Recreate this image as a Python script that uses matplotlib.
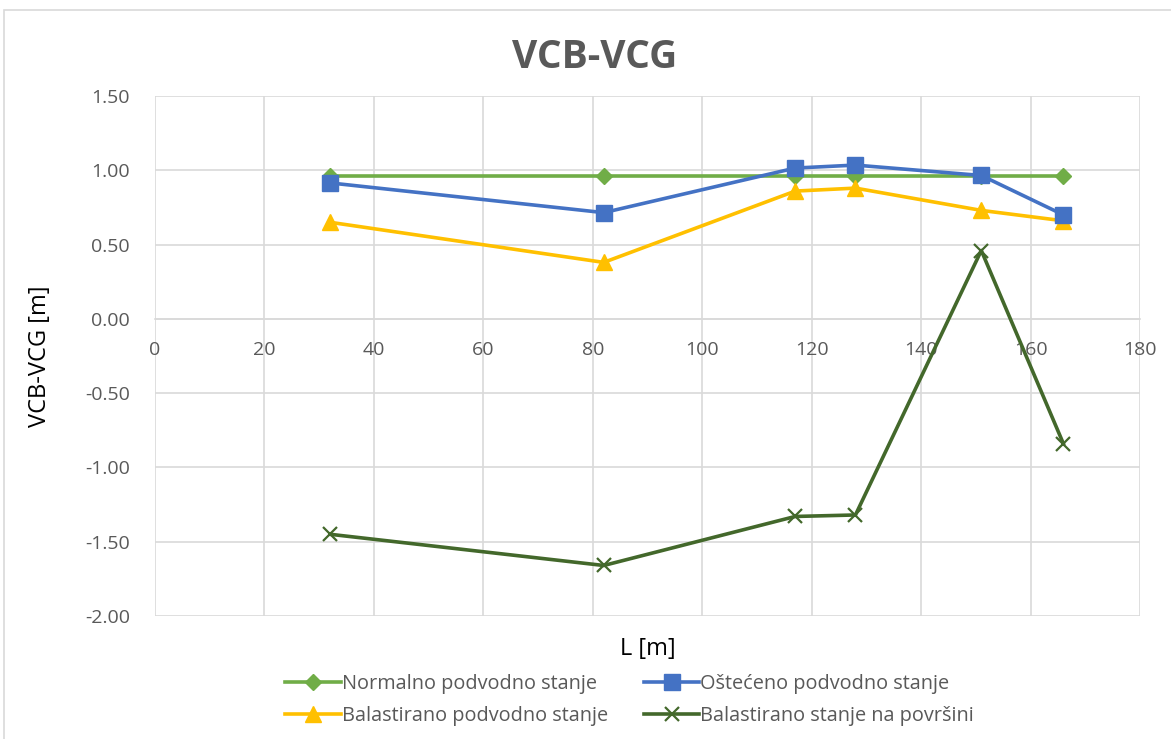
import matplotlib
matplotlib.use("Agg")
import matplotlib.pyplot as plt
from matplotlib.patches import Rectangle

L = [32, 82, 117, 128, 151, 166]
normalno = [0.96, 0.96, 0.96, 0.96, 0.96, 0.96]
osteceno = [0.915, 0.715, 1.015, 1.035, 0.965, 0.70]
balastirano = [0.65, 0.38, 0.86, 0.88, 0.73, 0.66]
povrsina = [-1.45, -1.66, -1.33, -1.32, 0.46, -0.84]

names = ["Normalno podvodno stanje", "Oštećeno podvodno stanje",
         "Balastirano podvodno stanje", "Balastirano stanje na površini"]
xticks = [0, 20, 40, 60, 80, 100, 120, 140, 160, 180]
yticks = [1.5, 1.0, 0.5, 0.0, -0.5, -1.0, -1.5, -2.0]

plt.rcParams['font.family'] = ['Open Sans', 'DejaVu Sans']

fig = plt.figure(figsize=(11.71, 7.39), dpi=100)
ax = fig.add_axes([155/1171, 1-616/739, (1140-155)/1171, (616-96)/739])

grid_c = '#d9d9d9'
txt_c = '#595959'

h1, = ax.plot(L, normalno, color='#70AD47', lw=2.6, marker='D', ms=8, label=names[0], zorder=3)
h2, = ax.plot(L, osteceno, color='#4472C4', lw=2.6, marker='s', ms=11, label=names[1], zorder=4)
h3, = ax.plot(L, balastirano, color='#FFC000', lw=2.6, marker='^', ms=11, label=names[2], zorder=3)
h4, = ax.plot(L, povrsina, color='#43682B', lw=2.6, marker='x', ms=10, mew=1.6, label=names[3], zorder=3)

ax.set_xlim(0, 180)
ax.set_ylim(-2.0, 1.5)
ax.set_xticks(xticks)
ax.set_yticks(yticks)
ax.set_yticklabels([f"{v:.2f}" for v in yticks])
ax.grid(True, color=grid_c, lw=1.2, zorder=0)
ax.set_axisbelow(True)
for s in ['top', 'right', 'left']:
    ax.spines[s].set_visible(False)
ax.spines['bottom'].set_position(('data', 0))
ax.spines['bottom'].set_color(grid_c)
ax.spines['bottom'].set_linewidth(1.2)
ax.tick_params(axis='both', length=0, colors=txt_c, labelsize=14)
ax.tick_params(axis='x', pad=16)
ax.tick_params(axis='y', pad=18)

fig.text(0.508, 1-58/739, "VCB-VCG", fontsize=28, fontweight='bold', color=txt_c,
         ha='center', va='center')
ax.set_xlabel("L [m]", fontsize=17, color='#000000')
ax.xaxis.set_label_coords(0.5, -0.04)
ax.set_ylabel("VCB-VCG [m]", fontsize=17, color='#000000')
ax.yaxis.set_label_coords(-0.105, 0.5)

leg = ax.legend([h1, h3, h2, h4], [names[0], names[2], names[1], names[3]],
                loc='upper center', bbox_to_anchor=(0.482, -0.077), ncol=2,
                frameon=False, fontsize=14.3, handlelength=2.8,
                columnspacing=1.8, labelspacing=0.6, handletextpad=0.05)
for t in leg.get_texts():
    t.set_color(txt_c)

fig.patches.append(Rectangle((4/1171, -0.01), 1.1, 1-10/739 + 0.01,
                             transform=fig.transFigure, fill=False,
                             edgecolor=grid_c, lw=1.2))

fig.savefig("out.png", dpi=100)
